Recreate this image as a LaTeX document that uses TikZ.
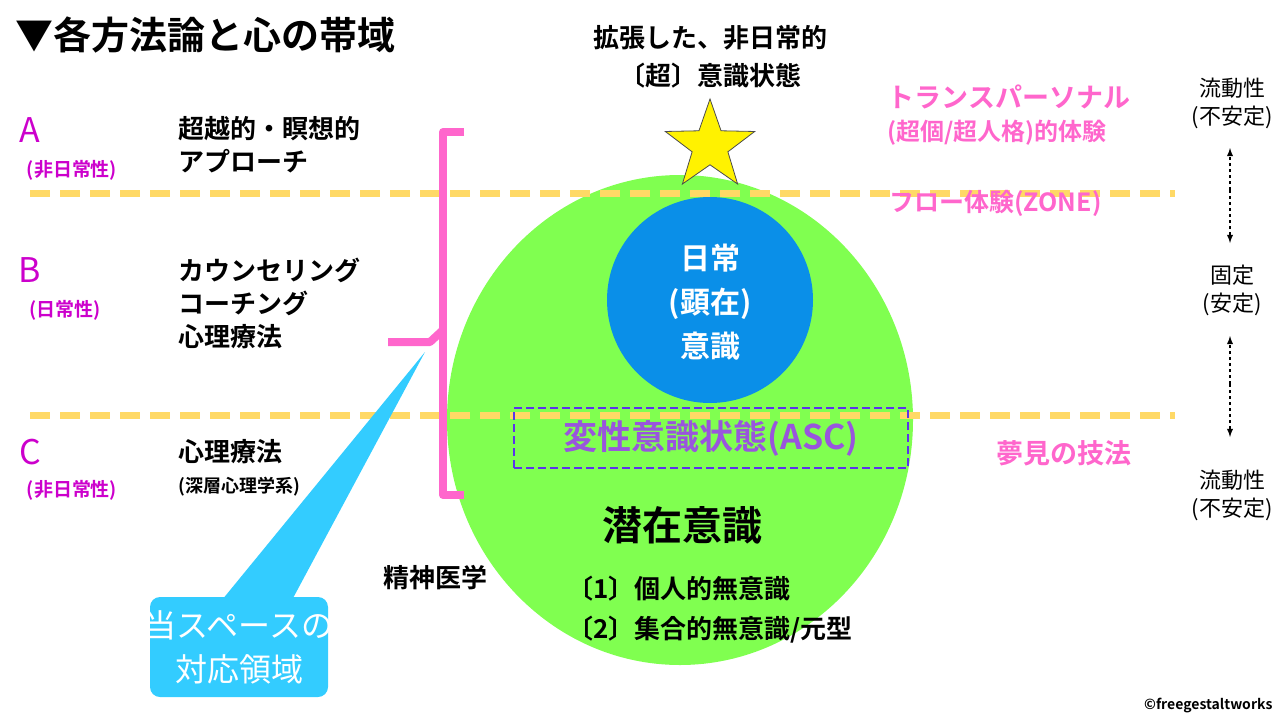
\documentclass[tikz,border=0pt]{standalone}
\usepackage{fontspec}
\setmainfont{Noto Sans CJK JP}[BoldFont={Noto Sans CJK JP Bold}]
\newfontfamily\jpb{Noto Sans CJK JP Bold}
\usetikzlibrary{shapes.geometric}
\definecolor{bandline}{HTML}{FFD966}
\definecolor{mindgreen}{HTML}{80FF50}
\definecolor{dayblue}{HTML}{0A8FE8}
\definecolor{pinkbr}{HTML}{FF66CC}
\definecolor{labelmag}{HTML}{CC00CC}
\definecolor{callblue}{HTML}{33CCFF}
\definecolor{ascpurple}{HTML}{9955DD}
\tikzset{%
  band/.style={bandline, line width=7pt, dash pattern=on 20pt off 10pt},
  txt/.style={font=\jpb\fontsize{26}{33}\selectfont, align=left, anchor=west},
  lvl/.style={font=\fontsize{34}{36}\selectfont, text=labelmag},
  sub/.style={font=\jpb\fontsize{19}{22}\selectfont, text=labelmag},
  side/.style={font=\fontsize{22}{28}\selectfont, align=center},
  pinktxt/.style={font=\jpb\fontsize{27}{33}\selectfont, text=pinkbr, align=left}
}
\begin{document}
\begin{tikzpicture}[x=1pt,y=-1pt]
    \useasboundingbox (0,0) rectangle (1280,720);
    % bands
    \fill[mindgreen] (680,420) ellipse (233 and 245);
    \draw[band] (30,193) -- (1175,193);
    \draw[band] (30,415) -- (1175,415);
    \fill[dayblue] (710,300) circle (103);
    \node[star, star points=5, star point ratio=2.5, fill=yellow, draw=black!70, thick, minimum size=94pt, inner sep=0pt] (peak) at (710,146) {};
    % title
    \node[font=\jpb\fontsize{38}{44}\selectfont, anchor=west] (title) at (12,35) {▼各方法論と心の帯域};
    % levels
    \node[lvl] (A) at (30,130) {A};
    \node[sub] (Asub) at (72,170) {(非日常性)};
    \node[lvl] (B) at (30,270) {B};
    \node[sub] (Bsub) at (65,310) {(日常性)};
    \node[lvl] (C) at (30,452) {C};
    \node[sub] (Csub) at (72,490) {(非日常性)};
    \node[txt] (meth1) at (175,145) {超越的・瞑想的\\アプローチ};
    \node[txt] (meth2) at (175,303) {カウンセリング\\コーチング\\心理療法};
    \node[txt] (meth3) at (175,452) {心理療法};
    \node[font=\jpb\fontsize{18}{20}\selectfont, anchor=west] (deep) at (175,487) {(深層心理学系)};
    \node[txt] (psy) at (380,578) {精神医学};
    % bracket
    \draw[pinkbr, line width=8pt, line join=round] (464,132) -- (443,132) -- (443,495) -- (464,495);
    \draw[pinkbr, line width=8pt, line join=round] (388,342) -- (430,342) -- (443,330);
    % callout
    \fill[callblue, rounded corners=10pt] (150,597) rectangle (328,697);
    \fill[callblue] (222,600) -- (425,352) -- (292,600) -- cycle;
    \node[font=\fontsize{32}{44}\selectfont, text=white, align=center] (space) at (239,647) {当スペースの\\対応領域};
    % circle texts
    \node[font=\jpb\fontsize{30}{44}\selectfont, text=white, align=center] (daily) at (710,302) {日常\\(顕在)\\意識};
    \node[font=\jpb\fontsize{34}{38}\selectfont, text=ascpurple, draw=ascpurple!60!blue, dash pattern=on 8pt off 4pt, line width=2.5pt, inner sep=4pt, minimum width=394pt, minimum height=60pt] (asc) at (711,438) {変性意識状態(ASC)};
    \node[font=\jpb\fontsize{40}{44}\selectfont] (sub1) at (682,525) {潜在意識};
    \node[font=\jpb\fontsize{26}{40}\selectfont, align=left] (uncon) at (710,610) {〔1〕個人的無意識\\〔2〕集合的無意識/元型};
    \node[font=\jpb\fontsize{26}{38}\selectfont, align=center] (super) at (710,57) {拡張した、非日常的\\〔超〕意識状態};
    % right side
    \node[pinktxt, anchor=west] (trans) at (884,115) {トランスパーソナル\\{\fontsize{24}{30}\selectfont(超個/超人格)的体験}};
    \node[pinktxt, anchor=west, font=\jpb\fontsize{25}{30}\selectfont] (flow) at (886,203) {フロー体験(ZONE)};
    \node[pinktxt, anchor=west] (dream) at (993,453) {夢見の技法};
    \node[side] (fl1) at (1232,103) {流動性\\(不安定)};
    \node[side] (fix) at (1232,290) {固定\\(安定)};
    \node[side] (fl2) at (1232,495) {流動性\\(不安定)};
    \draw[dashed, line width=1.8pt, -latex] (1230,190) -- (1230,148);
    \draw[dashed, line width=1.8pt, -latex] (1230,190) -- (1230,243);
    \draw[dashed, line width=1.8pt, -latex] (1230,384) -- (1230,336);
    \draw[dashed, line width=1.8pt, -latex] (1230,384) -- (1230,437);
    \node[font=\bfseries\fontsize{14}{16}\selectfont, anchor=east] (copy) at (1276,706) {©freegestaltworks};
\end{tikzpicture}
\end{document}
